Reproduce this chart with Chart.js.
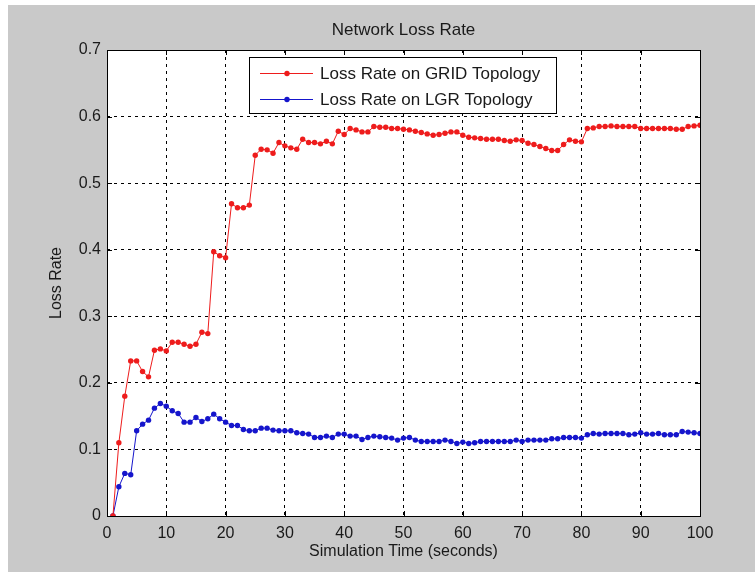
<!DOCTYPE html>
<html>
<head>
<meta charset="utf-8">
<title>Network Loss Rate</title>
<script src="https://cdn.jsdelivr.net/npm/chart.js@4/dist/chart.umd.min.js"></script>
<style>
  html, body { margin: 0; padding: 0; background: #fff; }
  #wrap { position: relative; width: 755px; height: 572px; }
</style>
</head>
<body>
<div id="wrap"><canvas id="lossChart" width="755" height="572"></canvas></div>
<script>
// simulation time steps (seconds)
const times = [];
for (let t = 1; t <= 100; t++) times.push(t);

const gridLoss = [
  0.000, 0.110, 0.180, 0.233, 0.233, 0.217, 0.209, 0.249, 0.251, 0.248,
  0.261, 0.261, 0.258, 0.255, 0.258, 0.276, 0.274, 0.397, 0.391, 0.388,
  0.469, 0.463, 0.463, 0.467, 0.542, 0.551, 0.550, 0.545, 0.561, 0.556,
  0.553, 0.551, 0.566, 0.561, 0.561, 0.559, 0.563, 0.559, 0.578, 0.573,
  0.582, 0.580, 0.577, 0.577, 0.585, 0.584, 0.584, 0.582, 0.582, 0.581,
  0.580, 0.578, 0.576, 0.574, 0.572, 0.573, 0.575, 0.577, 0.577, 0.572,
  0.569, 0.568, 0.567, 0.566, 0.566, 0.566, 0.564, 0.563, 0.565, 0.564,
  0.560, 0.558, 0.555, 0.552, 0.549, 0.549, 0.558, 0.565, 0.563, 0.562,
  0.582, 0.583, 0.585, 0.585, 0.586, 0.585, 0.585, 0.585, 0.585, 0.582,
  0.582, 0.582, 0.582, 0.582, 0.582, 0.581, 0.581, 0.585, 0.586, 0.587
];

const lgrLoss = [
  0.000, 0.044, 0.064, 0.062, 0.128, 0.138, 0.144, 0.162, 0.169, 0.165,
  0.158, 0.154, 0.141, 0.141, 0.148, 0.142, 0.146, 0.153, 0.146, 0.141,
  0.136, 0.136, 0.130, 0.128, 0.128, 0.132, 0.132, 0.129, 0.128, 0.128,
  0.128, 0.125, 0.124, 0.123, 0.118, 0.118, 0.120, 0.118, 0.123, 0.123,
  0.120, 0.120, 0.115, 0.118, 0.120, 0.119, 0.118, 0.117, 0.114, 0.117,
  0.118, 0.114, 0.112, 0.112, 0.112, 0.112, 0.114, 0.112, 0.109, 0.111,
  0.109, 0.110, 0.112, 0.112, 0.112, 0.112, 0.112, 0.112, 0.114, 0.112,
  0.114, 0.114, 0.114, 0.114, 0.116, 0.116, 0.118, 0.118, 0.118, 0.117,
  0.122, 0.124, 0.123, 0.124, 0.124, 0.124, 0.124, 0.122, 0.123, 0.125,
  0.123, 0.123, 0.124, 0.122, 0.122, 0.122, 0.127, 0.126, 0.125, 0.124
];

const chartTitle = "Network Loss Rate";
const seriesNames = ["Loss Rate on GRID Topology", "Loss Rate on LGR Topology"];
const seriesColors = ["#ee1c1c", "#1515cc"];
const xTicks = [0, 10, 20, 30, 40, 50, 60, 70, 80, 90, 100];
const yTicks = [0, 0.1, 0.2, 0.3, 0.4, 0.5, 0.6, 0.7];

const FONT = "'Liberation Sans', Arial, sans-serif";
const FS = 16;
const TEXT = "#1a1a1a";

// grey figure background, like a MATLAB figure window
const figureBg = {
  id: "figureBg",
  beforeDraw(chart) {
    const { ctx, width, height, chartArea: a } = chart;
    ctx.save();
    ctx.fillStyle = "#fff";
    ctx.fillRect(0, 0, width, height);
    ctx.fillStyle = "#c9c9c9";
    ctx.fillRect(8, 5, width - 8, height - 5);
    ctx.fillStyle = "#fff";
    ctx.fillRect(a.left, a.top, a.right - a.left, a.bottom - a.top);
    ctx.restore();
  }
};

// axes box with inward tick marks on all four sides, title over the axes, boxed legend
const axesBox = {
  id: "axesBox",
  afterDraw(chart) {
    const { ctx, chartArea: a, scales } = chart;
    const tl = 5;
    ctx.save();
    ctx.strokeStyle = "#000";
    ctx.lineWidth = 1;
    ctx.beginPath();
    xTicks.forEach(v => {
      const x = Math.round(scales.x.getPixelForValue(v)) + 0.5;
      ctx.moveTo(x, a.bottom); ctx.lineTo(x, a.bottom - tl);
      ctx.moveTo(x, a.top); ctx.lineTo(x, a.top + tl);
    });
    yTicks.forEach(v => {
      const y = Math.round(scales.y.getPixelForValue(v)) + 0.5;
      ctx.moveTo(a.left, y); ctx.lineTo(a.left + tl, y);
      ctx.moveTo(a.right, y); ctx.lineTo(a.right - tl, y);
    });
    ctx.stroke();
    ctx.strokeRect(Math.round(a.left) + 0.5, Math.round(a.top) + 0.5,
      Math.round(a.right - a.left), Math.round(a.bottom - a.top));

    // title, centred over the axes
    ctx.fillStyle = TEXT;
    ctx.font = "17px " + FONT;
    ctx.textAlign = "center";
    ctx.textBaseline = "middle";
    ctx.fillText(chartTitle, (a.left + a.right) / 2, a.top - 20);

    // legend
    const lx = 249.5, ly = 57.5, lw = 307, lh = 56;
    ctx.fillStyle = "#fff";
    ctx.fillRect(lx, ly, lw, lh);
    ctx.strokeRect(lx, ly, lw, lh);
    ctx.font = "17px " + FONT;
    ctx.textAlign = "left";
    seriesNames.forEach((name, i) => {
      const y = 73.5 + i * 26;
      ctx.strokeStyle = seriesColors[i];
      ctx.beginPath();
      ctx.moveTo(260, y); ctx.lineTo(313, y);
      ctx.stroke();
      ctx.fillStyle = seriesColors[i];
      ctx.beginPath();
      ctx.arc(287, y, 2.7, 0, Math.PI * 2);
      ctx.fill();
      ctx.fillStyle = TEXT;
      ctx.fillText(name, 320, y + 1);
    });
    ctx.restore();
  }
};

const toPoints = arr => times.map((t, i) => ({ x: t, y: arr[i] }));

new Chart(document.getElementById("lossChart"), {
  type: "line",
  data: {
    datasets: [gridLoss, lgrLoss].map((arr, i) => ({
      label: seriesNames[i],
      data: toPoints(arr),
      borderColor: seriesColors[i],
      backgroundColor: seriesColors[i],
      borderWidth: 1,
      pointRadius: 2.7,
      pointBorderWidth: 0,
      tension: 0,
      fill: false
    }))
  },
  options: {
    responsive: false,
    animation: false,
    events: [],
    layout: { padding: { left: 40, top: 50, right: 55, bottom: 6 } },
    plugins: {
      legend: { display: false },
      tooltip: { enabled: false },
      title: { display: false }
    },
    scales: {
      x: {
        type: "linear",
        min: 0, max: 100,
        afterBuildTicks: s => { s.ticks = xTicks.map(v => ({ value: v })); },
        afterFit: s => { s.height = 50; },
        grid: { color: "#000", lineWidth: 1, drawTicks: false },
        border: { display: false, dash: [3, 4] },
        ticks: { color: TEXT, padding: 8, maxRotation: 0, font: { family: FONT, size: FS } },
        title: {
          display: true,
          text: "Simulation Time (seconds)",
          color: TEXT,
          font: { family: FONT, size: FS },
          padding: { top: 0, bottom: 5 }
        }
      },
      y: {
        min: 0, max: 0.7,
        afterBuildTicks: s => { s.ticks = yTicks.map(v => ({ value: v })); },
        afterFit: s => { s.width = 67; },
        grid: { color: "#000", lineWidth: 1, drawTicks: false },
        border: { display: false, dash: [3, 4] },
        ticks: {
          color: TEXT, padding: 6,
          font: { family: FONT, size: FS },
          callback: v => (v === 0 ? "0" : v.toFixed(1))
        },
        title: {
          display: true,
          text: "Loss Rate",
          color: TEXT,
          font: { family: FONT, size: FS },
          padding: { top: 7, bottom: 0 }
        }
      }
    }
  },
  plugins: [figureBg, axesBox]
});
</script>
</body>
</html>
